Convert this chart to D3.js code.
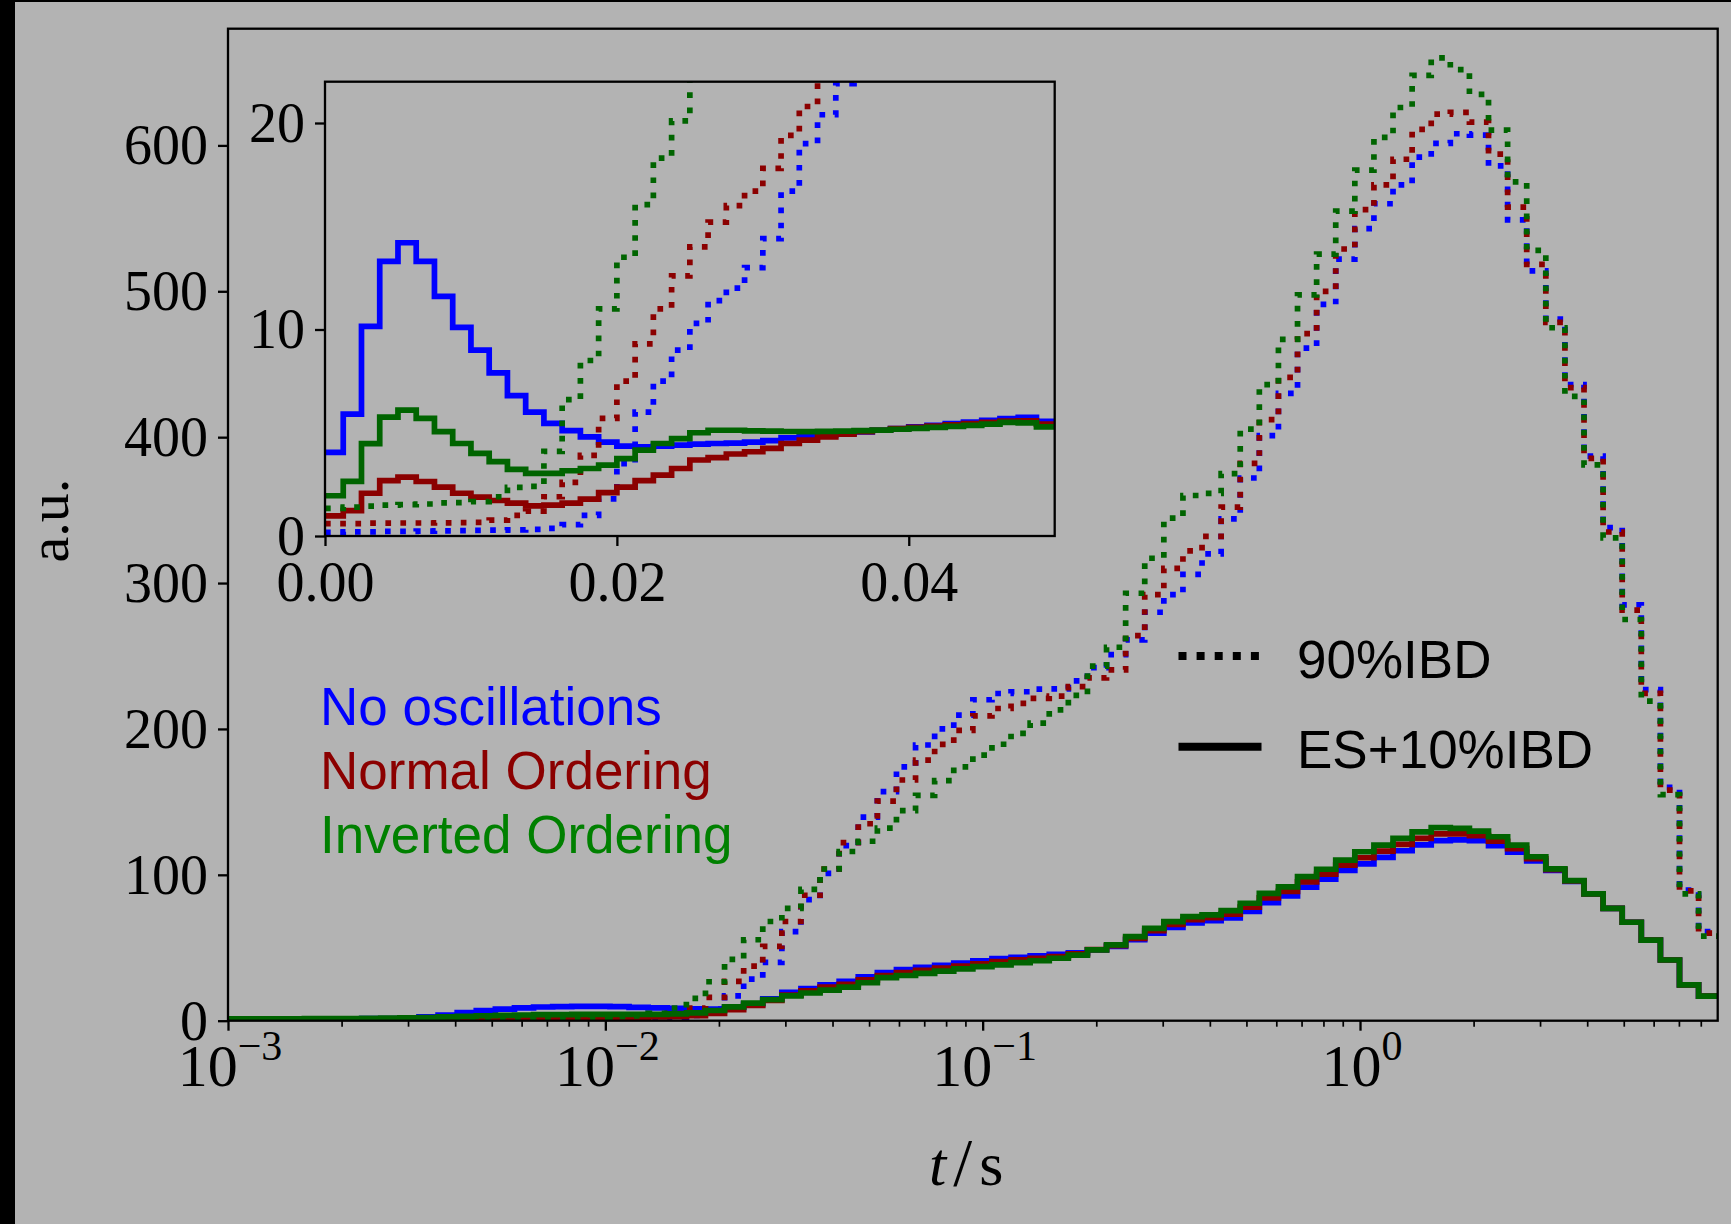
<!DOCTYPE html>
<html>
<head>
<meta charset="utf-8">
<script src="https://cdn.jsdelivr.net/npm/d3@7"></script>
<style>
  html, body { margin: 0; padding: 0; background: #b3b3b3; }
  svg { display: block; }
</style>
</head>
<body>
<svg id="fig"></svg>
<script>
// ---- main panel: 78 log-spaced bins from 1 ms to 8.87 s ----
const mainRange = [1e-3, 8.87];
const nMainBins = 78;

const noOscSolid = [
  1.0,1.0,1.1,1.1,1.2,1.2,1.3,1.4,1.5,1.8,
  2.6,3.9,5.5,7.0,8.0,8.8,9.4,9.7,9.8,9.8,
  9.6,9.2,8.8,8.4,8.2,8.0,9.2,11.5,15.0,19.5,
  22.0,24.5,27.0,30.0,33.0,35.0,36.5,38.0,39.5,41.0,
  42.5,43.5,44.5,45.5,46.5,48.5,51.0,55.5,60.0,64.0,
  67.0,68.5,70.5,75.0,81.0,85.5,91.5,97.0,103.0,107.5,
  112.0,116.5,120.5,123.5,124.0,123.5,120.0,115.5,109.5,103.0,
  95.5,87.0,77.0,67.5,55.3,41.6,24.5,16.9];
const normalSolid = [
  1.0,1.0,1.0,1.0,1.0,1.0,1.1,1.1,1.2,1.3,
  1.5,1.7,1.9,2.1,2.2,2.3,2.4,2.4,2.4,2.4,
  2.4,2.5,2.6,2.8,3.5,5.0,7.5,10.5,14.0,17.5,
  20.5,23.0,25.0,28.0,31.0,33.0,34.5,36.0,37.5,39.0,
  40.5,41.7,42.8,44.0,45.8,48.7,51.5,56.5,61.7,66.0,
  69.2,70.6,73.0,77.8,84.2,88.7,95.1,100.4,106.6,111.7,
  116.2,120.8,125.0,128.0,128.0,126.8,123.0,118.0,111.0,103.6,
  95.8,87.0,77.0,67.5,55.3,41.6,24.5,16.9];
const invertedSolid = [
  1.2,1.2,1.3,1.3,1.4,1.4,1.5,1.6,1.7,1.9,
  2.2,2.6,3.0,3.4,3.7,3.9,4.1,4.2,4.3,4.3,
  4.3,4.3,4.4,4.7,5.4,7.0,9.5,12.0,14.5,17.0,
  19.0,21.0,23.0,26.0,29.5,31.0,32.5,34.0,35.5,37.0,
  38.3,39.8,41.1,42.8,45.0,48.5,52.0,57.6,63.3,67.9,
  71.3,72.6,75.5,80.5,87.3,91.8,98.7,103.8,110.1,115.8,
  120.4,125.0,129.5,132.4,131.8,130.0,126.1,120.4,112.4,104.1,
  96.0,87.0,77.0,67.5,55.3,41.6,24.5,16.9];

const noOscDotted = [
  0.05,0.05,0.06,0.07,0.08,0.09,0.10,0.11,0.12,0.14,
  0.16,0.18,0.20,0.22,0.25,0.28,0.30,0.33,0.36,0.40,
  0.45,0.55,0.9,1.6,3.6,8.0,17.0,28.5,40.0,61.0,
  83.0,101.0,120.0,139.5,157.0,174.0,189.0,200.0,209.5,220.0,
  224.3,225.5,227.3,227.5,233.0,242.0,251.0,261.0,280.0,292.0,
  306.0,320.0,344.0,372.0,401.0,430.0,461.0,491.0,522.0,543.0,
  560.0,573.0,592.0,601.4,608.0,607.0,586.0,549.0,514.0,481.0,
  436.0,387.0,338.0,285.0,227.0,160.0,89.6,61.0];
const normalDotted = [
  0.13,0.15,0.17,0.19,0.21,0.24,0.27,0.30,0.33,0.38,
  0.42,0.47,0.53,0.60,0.67,0.75,0.85,0.95,1.07,1.2,
  1.35,1.6,3.1,4.8,8.6,16.0,27.0,37.4,51.0,68.0,
  86.0,104.0,122.0,135.0,150.5,165.0,178.6,189.4,199.0,209.0,
  214.0,217.5,221.0,222.5,229.0,235.0,240.5,264.0,292.0,310.0,
  322.0,332.0,352.0,382.0,412.0,441.0,471.0,500.0,529.0,556.0,
  573.0,590.5,611.0,621.5,622.6,616.0,594.0,557.7,518.4,478.7,
  434.0,385.5,335.0,281.5,224.4,158.0,89.0,60.0];
const invertedDotted = [
  0.26,0.29,0.33,0.37,0.42,0.47,0.53,0.60,0.67,0.76,
  0.85,0.95,1.07,1.2,1.35,1.5,1.7,1.9,2.15,2.4,
  2.7,3.3,5.1,8.7,15.3,26.7,42.0,55.5,68.0,77.0,
  90.0,104.0,116.0,123.0,132.0,144.0,154.5,164.5,174.0,182.0,
  189.5,197.0,204.0,213.0,223.0,243.0,256.0,293.0,317.0,344.5,
  360.0,361.5,375.0,405.5,436.0,467.0,497.5,525.5,555.0,583.0,
  605.5,626.0,648.0,660.0,652.0,635.0,610.5,575.0,528.0,475.0,
  428.0,381.0,331.0,275.0,219.0,155.0,87.0,58.0];

// ---- inset: linear 1.25 ms bins, 0 - 50 ms (dotted ones stop once off the top) ----
const insetBin = 0.00125;
const insetNoOscSolid = [
  4.05,5.9,10.15,13.3,14.2,13.3,11.6,10.1,9.0,7.9,
  6.8,6.0,5.45,5.1,4.8,4.55,4.35,4.32,4.35,4.4,
  4.45,4.48,4.5,4.55,4.62,4.75,4.82,4.9,4.97,5.04,
  5.12,5.2,5.28,5.36,5.44,5.52,5.6,5.68,5.75,5.55];
const insetNormalSolid = [
  0.97,1.23,2.07,2.68,2.85,2.64,2.37,2.07,1.88,1.72,
  1.59,1.46,1.5,1.59,1.79,2.1,2.37,2.68,2.95,3.27,
  3.68,3.8,3.97,4.08,4.24,4.48,4.64,4.8,4.93,5.05,
  5.12,5.2,5.26,5.32,5.38,5.44,5.5,5.56,5.58,5.42];
const insetInvertedSolid = [
  1.95,2.65,4.47,5.76,6.1,5.7,5.05,4.48,4.0,3.6,
  3.23,3.03,3.03,3.16,3.27,3.43,3.75,4.16,4.48,4.72,
  5.0,5.12,5.12,5.09,5.08,5.06,5.05,5.07,5.08,5.1,
  5.13,5.17,5.21,5.26,5.31,5.36,5.42,5.5,5.48,5.28];
const insetNoOscDotted = [
  0.18,0.2,0.2,0.22,0.22,0.24,0.25,0.26,0.27,0.28,
  0.3,0.32,0.37,0.55,1.0,1.8,3.5,6.0,7.5,9.0,
  10.3,11.4,12.0,13.0,14.4,16.7,19.0,20.4,21.9,23.5];
const insetNormalDotted = [
  0.6,0.6,0.62,0.62,0.63,0.63,0.64,0.65,0.66,0.77,
  1.0,1.2,1.9,2.6,3.9,5.7,7.5,9.3,11.0,12.6,
  14.0,15.2,16.0,16.7,17.8,19.4,20.8,22.2,23.8];
const insetInvertedDotted = [
  1.34,1.4,1.45,1.5,1.52,1.55,1.6,1.62,1.66,1.9,
  2.35,2.4,4.1,6.6,8.5,11.0,13.5,16.05,18.3,20.1,
  22.5,25.0];

const mainYTicks = [0, 100, 200, 300, 400, 500, 600];
const mainXTicks = [1e-3, 1e-2, 1e-1, 1e0];
const mainXTickExp = ["−3", "−2", "−1", "0"];
const insetXTicks = [0, 0.02, 0.04];
const insetYTicks = [0, 10, 20];
const seriesNames = ["No oscillations", "Normal Ordering", "Inverted Ordering"];
const lineColors = ["#0000ff", "#8b0000", "#006400"];
const textColors = ["#0000ff", "#8b0000", "#008000"];
const legendLabels = ["90%IBD", "ES+10%IBD"];

// ---------------------------------------------------------------
const W = 1731, H = 1224;
const serif = "'Liberation Serif', 'Times New Roman', serif";
const sans = "'Liberation Sans', Arial, sans-serif";
const tickFont = 56;
const bg = "#b3b3b3";

const svg = d3.select("#fig").attr("width", W).attr("height", H);
svg.append("rect").attr("width", W).attr("height", H).attr("fill", bg);
svg.append("rect").attr("width", 15).attr("height", H).attr("fill", "#000");
svg.append("rect").attr("width", W).attr("height", 2).attr("fill", "#000");

const main = {left: 228, right: 1717.7, top: 28.7, bottom: 1020.7};
const ins = {left: 325, right: 1054.7, top: 81.7, bottom: 536};

const x = d3.scaleLog().domain(mainRange).range([main.left, main.right]);
const y = d3.scaleLinear().domain([0, 680]).range([main.bottom, main.top]);
const xi = d3.scaleLinear().domain([0, 0.05]).range([ins.left, ins.right]);
const yi = d3.scaleLinear().domain([0, 22]).range([ins.bottom, ins.top]);

const lo = Math.log10(mainRange[0]), hi = Math.log10(mainRange[1]);
const mainEdges = d3.range(nMainBins + 1).map(i => Math.pow(10, lo + (hi - lo) * i / nMainBins));
const insetEdges = d3.range(41).map(i => i * insetBin);

function steps(edges, vals) {
  const pts = [];
  vals.forEach((v, i) => { pts.push([edges[i], v]); pts.push([edges[i + 1], v]); });
  return pts;
}

const defs = svg.append("defs");
defs.append("clipPath").attr("id", "clipMain").append("rect")
  .attr("x", main.left).attr("y", main.top)
  .attr("width", main.right - main.left).attr("height", main.bottom - main.top);
defs.append("clipPath").attr("id", "clipInset").append("rect")
  .attr("x", ins.left).attr("y", ins.top)
  .attr("width", ins.right - ins.left).attr("height", ins.bottom - ins.top);

const LW = 5.7;
const dots = "5.7,9.5";

function drawSet(g, xs, ys, edges, solids, dotted) {
  const line = d3.line().x(d => xs(d[0])).y(d => ys(d[1]));
  solids.forEach((vals, i) => {
    g.append("path").attr("d", line(steps(edges, vals)))
      .attr("fill", "none").attr("stroke", lineColors[i])
      .attr("stroke-width", LW).attr("stroke-linejoin", "miter");
    g.append("path").attr("d", line(steps(edges, dotted[i])))
      .attr("fill", "none").attr("stroke", lineColors[i])
      .attr("stroke-width", LW).attr("stroke-dasharray", dots)
      .attr("stroke-linecap", "butt");
  });
}

// ---- main axes ----
const gMain = svg.append("g").attr("clip-path", "url(#clipMain)");
drawSet(gMain, x, y, mainEdges,
  [noOscSolid, normalSolid, invertedSolid],
  [noOscDotted, normalDotted, invertedDotted]);

// minor x ticks
const minorTicks = [];
[-3, -2, -1, 0].forEach(e => d3.range(2, 10).forEach(m => {
  const v = m * Math.pow(10, e);
  if (v < mainRange[1]) minorTicks.push(v);
}));

const gxMinor = svg.append("g").attr("transform", `translate(0,${main.bottom})`)
  .call(d3.axisBottom(x).tickValues(minorTicks).tickSize(6).tickFormat(""));
gxMinor.select(".domain").remove();
gxMinor.selectAll(".tick line").attr("stroke", "#000").attr("stroke-width", 1.7);

const gx = svg.append("g").attr("transform", `translate(0,${main.bottom})`)
  .call(d3.axisBottom(x).tickValues(mainXTicks).tickSize(10).tickFormat(""));
gx.select(".domain").remove();
gx.selectAll(".tick line").attr("stroke", "#000").attr("stroke-width", 2.3);

const xLab = svg.append("g").attr("font-family", serif).attr("font-size", 60);
mainXTicks.forEach((t, i) => {
  const tx = xLab.append("text").attr("x", x(t) + 2).attr("y", main.bottom + 65)
    .attr("text-anchor", "middle");
  tx.append("tspan").text("10");
  tx.append("tspan").attr("dy", -26).attr("font-size", 42).text(mainXTickExp[i]);
});

const gy = svg.append("g").attr("transform", `translate(${main.left},0)`)
  .call(d3.axisLeft(y).tickValues(mainYTicks).tickSize(10).tickPadding(10));
gy.select(".domain").remove();
gy.attr("font-family", serif).attr("font-size", tickFont);
gy.selectAll(".tick line").attr("stroke", "#000").attr("stroke-width", 2.3);
gy.selectAll(".tick text").attr("fill", "#000").attr("dy", "0.33em");

svg.append("rect").attr("x", main.left).attr("y", main.top)
  .attr("width", main.right - main.left).attr("height", main.bottom - main.top)
  .attr("fill", "none").attr("stroke", "#000").attr("stroke-width", 2.3);

// axis titles
svg.append("text").attr("transform", `translate(68,${(main.top + main.bottom) / 2 - 4}) rotate(-90)`)
  .attr("text-anchor", "middle").attr("font-family", serif).attr("font-size", 58)
  .text("a.u.");
const xt = svg.append("text").attr("x", 929).attr("y", 1185)
  .attr("font-family", serif).attr("font-size", 62);
xt.append("tspan").attr("font-style", "italic").text("t");
xt.append("tspan").attr("dx", 7).attr("font-size", 68).text("/");
xt.append("tspan").attr("dx", 7).text("s");

// colour key
const key = svg.append("g").attr("font-family", sans).attr("font-size", 53);
seriesNames.forEach((s, i) => {
  key.append("text").attr("x", 320).attr("y", 725 + i * 64.2)
    .attr("fill", textColors[i]).text(s);
});

// line-style legend
const leg = svg.append("g");
[[656, "8,10.1"], [746.7, null]].forEach(([ly, dash], i) => {
  const l = leg.append("line").attr("x1", 1178.5).attr("x2", 1261.5)
    .attr("y1", ly).attr("y2", ly).attr("stroke", "#000").attr("stroke-width", 8);
  if (dash) l.attr("stroke-dasharray", dash);
  leg.append("text").attr("x", 1297).attr("y", ly + 22 - (i ? 0.7 : 0))
    .attr("font-family", sans).attr("font-size", 53).text(legendLabels[i]);
});

// ---- inset ----
svg.append("rect").attr("x", ins.left).attr("y", ins.top)
  .attr("width", ins.right - ins.left).attr("height", ins.bottom - ins.top).attr("fill", bg);
const gIn = svg.append("g").attr("clip-path", "url(#clipInset)");
drawSet(gIn, xi, yi, insetEdges,
  [insetNoOscSolid, insetNormalSolid, insetInvertedSolid],
  [insetNoOscDotted, insetNormalDotted, insetInvertedDotted]);

const gix = svg.append("g").attr("transform", `translate(0,${ins.bottom})`)
  .call(d3.axisBottom(xi).tickValues(insetXTicks).tickSize(10).tickPadding(10)
    .tickFormat(d3.format(".2f")));
gix.select(".domain").remove();
gix.attr("font-family", serif).attr("font-size", tickFont);
gix.selectAll(".tick line").attr("stroke", "#000").attr("stroke-width", 2.3);
gix.selectAll(".tick text").attr("fill", "#000").attr("dy", "0.8em");

const giy = svg.append("g").attr("transform", `translate(${ins.left},0)`)
  .call(d3.axisLeft(yi).tickValues(insetYTicks).tickSize(10).tickPadding(10));
giy.select(".domain").remove();
giy.attr("font-family", serif).attr("font-size", tickFont);
giy.selectAll(".tick line").attr("stroke", "#000").attr("stroke-width", 2.3);
giy.selectAll(".tick text").attr("fill", "#000").attr("dy", "0.33em");

svg.append("rect").attr("x", ins.left).attr("y", ins.top)
  .attr("width", ins.right - ins.left).attr("height", ins.bottom - ins.top)
  .attr("fill", "none").attr("stroke", "#000").attr("stroke-width", 2.3);
</script>
</body>
</html>
